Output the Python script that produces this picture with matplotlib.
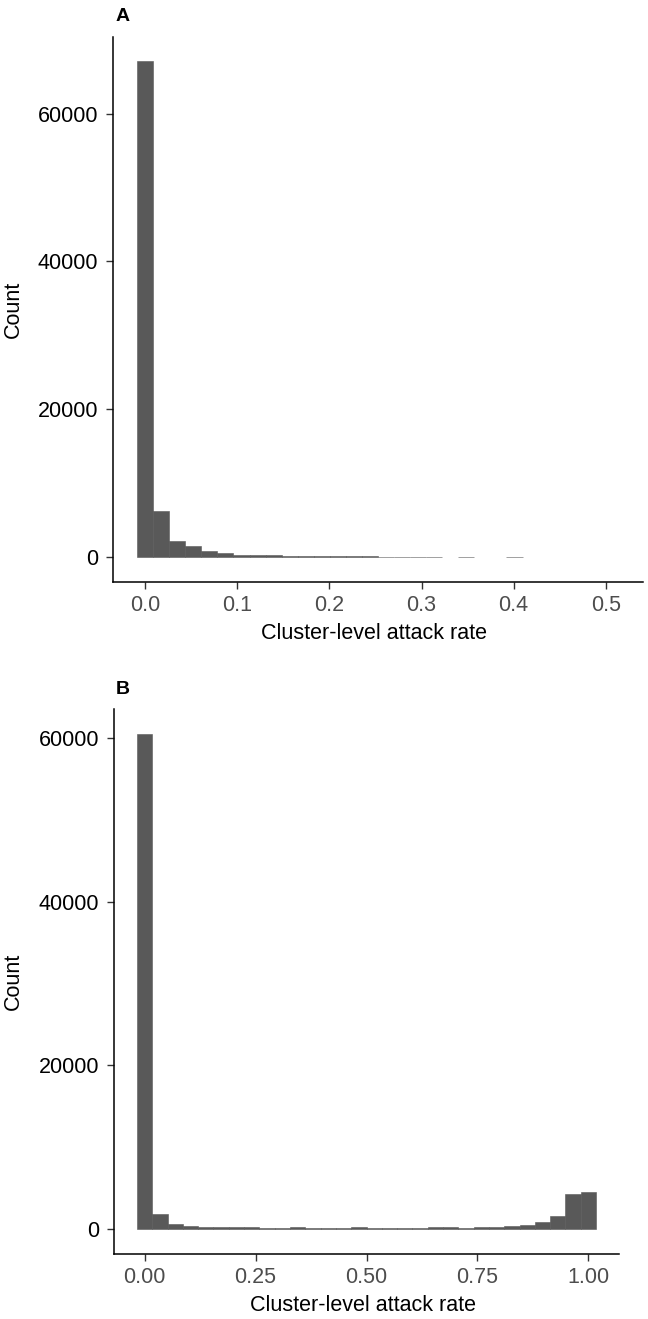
import matplotlib
matplotlib.use("Agg")
import matplotlib.pyplot as plt
import numpy as np

plt.rcParams['font.family'] = ['Liberation Sans', 'DejaVu Sans']

# Panel A: 30 bins, centred on 0, width = max / 29
max_a = 0.5055
counts_a = [67100, 6200, 2100, 1420, 720, 470, 300, 260, 210, 150,
            100, 80, 60, 45, 35, 25, 20, 15, 10, 0,
            5, 0, 0, 5, 0, 0, 0, 0, 0, 0]
xticks_a = [0.0, 0.1, 0.2, 0.3, 0.4, 0.5]
xticklabels_a = ["0.0", "0.1", "0.2", "0.3", "0.4", "0.5"]

# Panel B: 30 bins from 0 to 1
max_b = 1.0
counts_b = [60500, 1870, 570, 410, 240, 240, 220, 220, 120, 120,
            200, 120, 120, 120, 290, 70, 120, 120, 120, 200,
            200, 130, 200, 200, 350, 490, 810, 1650, 4300, 4520]
xticks_b = [0.0, 0.25, 0.5, 0.75, 1.0]
xticklabels_b = ["0.00", "0.25", "0.50", "0.75", "1.00"]

yticks = [0, 20000, 40000, 60000]
xlabel = "Cluster-level attack rate"
ylabel = "Count"
FILL = "#595959"

W, H = 648, 1319
fig = plt.figure(figsize=(W / 100, H / 100), dpi=100)


def panel(rect_px, vmax, counts, xticks, xticklabels, tag):
    left, right, top, bottom = rect_px
    ax = fig.add_axes([left / W, 1 - bottom / H, (right - left) / W, (bottom - top) / H])
    counts = np.array(counts, dtype=float)
    n = len(counts)
    w = vmax / (n - 1)
    centers = np.arange(n) * w
    keep = counts > 0
    ax.bar(centers[keep], counts[keep], width=w, color=FILL,
           edgecolor=FILL, linewidth=0.4, align='center')

    lo, hi = -w / 2, vmax + w / 2
    pad = 0.05 * (hi - lo)
    ax.set_xlim(lo - pad, hi + pad)
    ymax = counts.max()
    ax.set_ylim(-0.05 * ymax, 1.05 * ymax)

    ax.set_xticks(xticks)
    ax.set_xticklabels(xticklabels)
    ax.set_yticks(yticks)
    ax.set_yticklabels([str(t) for t in yticks])

    for s in ["top", "right"]:
        ax.spines[s].set_visible(False)
    for s in ["left", "bottom"]:
        ax.spines[s].set_linewidth(1.1)
        ax.spines[s].set_color("black")
    ax.tick_params(axis="both", length=5, width=1.0, color="#333333", labelsize=15.5)
    ax.tick_params(axis="x", pad=4.5, labelcolor="#4D4D4D")
    ax.tick_params(axis="y", pad=5.5, labelcolor="black")

    fig.text(13 / W, 1 - (top + bottom) / 2 / H, ylabel, rotation=90,
             ha="center", va="center", fontsize=15.5)
    fig.text((left + right) / 2 / W - 0.006, 1 - (bottom + 52) / H, xlabel,
             ha="center", va="center", fontsize=15.5)
    fig.text(116 / W, 1 - (top - 20) / H, tag, ha="left", va="center",
             fontsize=14, fontweight="bold")
    return ax


panel((113, 643, 36.7, 581.5), max_a, counts_a, xticks_a, xticklabels_a, "A")
panel((114, 619, 709.3, 1253.8), max_b, counts_b, xticks_b, xticklabels_b, "B")

fig.savefig("out.png", dpi=100, facecolor="white")
